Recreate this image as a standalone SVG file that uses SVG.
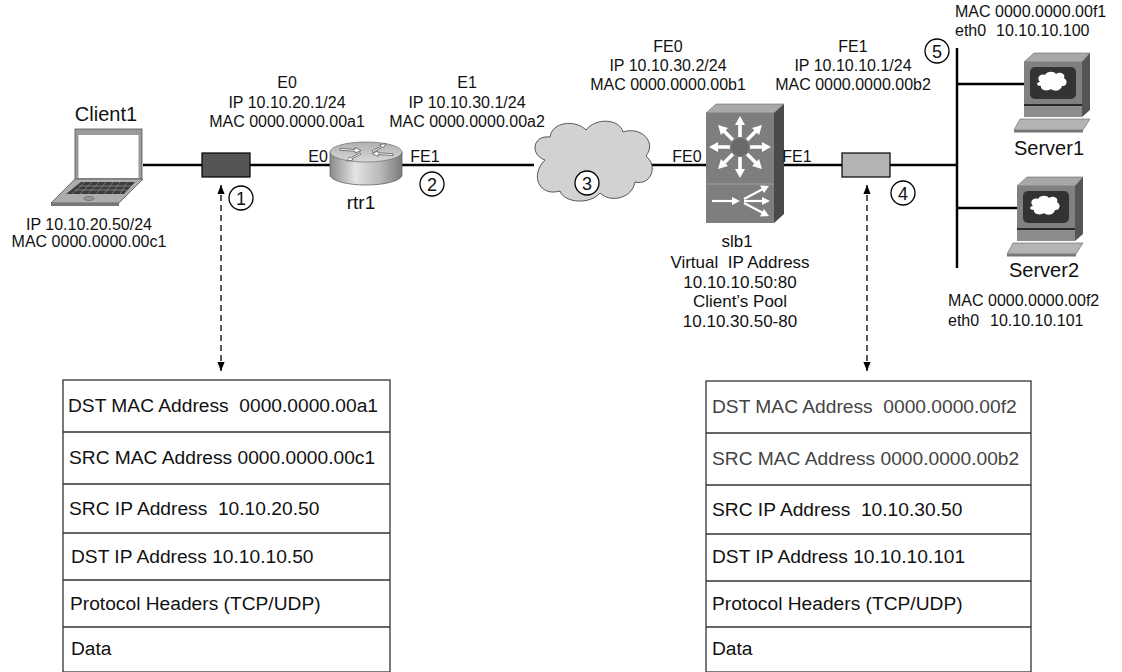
<svg xmlns="http://www.w3.org/2000/svg" width="1122" height="672" viewBox="0 0 1122 672">
  <style>
    text { font-family: "Liberation Sans", Arial, sans-serif; fill: #111; }
    .lbl { font-size: 16px; text-anchor: middle; }
    .lbl-l { font-size: 16px; }
    .big { font-size: 20px; text-anchor: middle; }
    .slb { font-size: 17px; text-anchor: middle; }
    .num { font-size: 18px; text-anchor: middle; }
    .cell { font-size: 19.2px; }
    .cell-g { font-size: 19.2px; fill: #444; }
    .link { stroke: #000; stroke-width: 2.5; fill: none; }
    .dash { stroke: #000; stroke-width: 1.3; stroke-dasharray: 6 4; fill: none; }
    .ring { fill: #fff; stroke: #000; stroke-width: 1.3; }
    .frame { fill: #fff; stroke: #333; stroke-width: 1.3; }
    .rowline { stroke: #333; stroke-width: 1.3; }
  </style>
  <defs>
    <marker id="tip" viewBox="0 0 10 8" refX="10" refY="4" markerWidth="9" markerHeight="7.2" markerUnits="userSpaceOnUse" orient="auto-start-reverse">
      <path d="M0,0 L10,4 L0,8 z" fill="#000"/>
    </marker>
    <linearGradient id="rtrSide" x1="0" y1="0" x2="1" y2="0">
      <stop offset="0" stop-color="#8a8a8a"/>
      <stop offset="0.35" stop-color="#e4e4e4"/>
      <stop offset="0.7" stop-color="#b8b8b8"/>
      <stop offset="1" stop-color="#7a7a7a"/>
    </linearGradient>
    <linearGradient id="rtrTop" x1="0" y1="0" x2="0" y2="1">
      <stop offset="0" stop-color="#b0b0b0"/>
      <stop offset="1" stop-color="#d8d8d8"/>
    </linearGradient>
    <path id="ray" d="M10,-1.8 H22 V-5 L31,0 L22,5 V1.8 H10 Z" fill="#fff"/>
    <g id="server">
      <polygon points="1024,62 1034,53 1090,53 1082,62" fill="#a8a8a8" stroke="#666" stroke-width="0.6"/>
      <polygon points="1082,62 1090,53 1090,110 1082,117" fill="#555"/>
      <rect x="1024" y="62" width="58" height="42" fill="#808080"/>
      <rect x="1030" y="67" width="46" height="32" rx="5" fill="#333"/>
      <path d="M1040,82 C1036,78 1040,73 1045,75 C1047,71 1054,71 1056,74 C1060,71 1066,74 1064,78 C1069,81 1066,87 1062,86 C1061,91 1054,92 1051,89 C1047,92 1040,90 1041,86 C1036,86 1036,82 1040,82 Z" fill="#fff"/>
      <rect x="1024" y="104" width="58" height="2.5" fill="#2a2a2a"/>
      <rect x="1024" y="106.5" width="58" height="10.5" fill="#8c8c8c"/>
      <polygon points="1020,119 1090,119 1083,130 1014,130" fill="#b4b4b4" stroke="#666" stroke-width="0.6"/>
      <rect x="1014" y="130" width="69" height="2.5" fill="#777"/>
    </g>
  </defs>

  <!-- network links -->
  <g id="connectors">
    <line class="link" x1="143" y1="165" x2="202" y2="165"/>
    <line class="link" x1="250" y1="165" x2="331" y2="165"/>
    <line class="link" x1="401" y1="165" x2="534" y2="165"/>
    <line class="link" x1="650" y1="165" x2="706" y2="165"/>
    <line class="link" x1="784" y1="165" x2="842" y2="165"/>
    <line class="link" x1="890" y1="165" x2="957" y2="165"/>
    <line class="link" x1="957" y1="48" x2="957" y2="268"/>
    <line class="link" x1="957" y1="84" x2="1024" y2="84"/>
    <line class="link" x1="957" y1="208" x2="1017" y2="208"/>
    <!-- capture points to frame dumps -->
    <line class="dash" x1="221" y1="185" x2="221" y2="371" marker-start="url(#tip)" marker-end="url(#tip)"/>
    <line class="dash" x1="867" y1="185" x2="867" y2="371" marker-start="url(#tip)" marker-end="url(#tip)"/>
  </g>

  <!-- Client1 laptop -->
  <g id="client1">
    <rect x="75" y="129" width="67" height="51" fill="#9a9a9a" stroke="#555" stroke-width="0.8"/>
    <rect x="78.5" y="135" width="60" height="43" fill="#fff"/>
    <polygon points="75,179 143,179 119,203 51,203" fill="#adadad" stroke="#555" stroke-width="0.8"/>
    <rect x="51" y="203" width="68" height="3" fill="#777"/>
    <polygon points="81,182 135,182 124,194 66,194" fill="#3c3c3c"/>
    <path d="M79,186 H131 M75,190 H127" stroke="#999" stroke-width="0.7"/>
    <path d="M85,182 L72,194 M92,182 L80,194 M99,182 L88,194 M106,182 L96,194 M113,182 L104,194 M120,182 L112,194 M127,182 L120,194" stroke="#999" stroke-width="0.6"/>
    <ellipse cx="89" cy="198.5" rx="5" ry="2" fill="#999" stroke="#555" stroke-width="0.6"/>
    <text class="big" x="106" y="121">Client1</text>
    <text class="lbl" x="89" y="230">IP 10.10.20.50/24</text>
    <text class="lbl" x="89" y="247">MAC 0000.0000.00c1</text>
  </g>

  <!-- capture point 1 -->
  <g id="tap1">
    <rect x="202" y="153" width="48" height="24" fill="#555" stroke="#000" stroke-width="1.2"/>
    <circle class="ring" cx="241" cy="198" r="12"/>
    <text class="num" x="241" y="204.5">1</text>
  </g>

  <!-- rtr1 router -->
  <g id="rtr1">
    <path d="M330,152 V175 A36,10 0 0 0 402,175 V152 Z" fill="url(#rtrSide)" stroke="#666" stroke-width="0.8"/>
    <ellipse cx="366" cy="152" rx="36" ry="10" fill="url(#rtrTop)" stroke="#777" stroke-width="0.8"/>
    <g stroke="#333" stroke-width="0.6" fill="#fff">
      <path d="M340,148.5 L355,149.5 L355,147.5 L361,150.5 L355,153 L355,151.2 L340,150.3 Z"/>
      <path d="M372,151 L381,146.2 L380,144.6 L386,143.6 L383.5,147.6 L382.5,146.7 L373.5,152.3 Z"/>
      <path d="M361,154.2 L352,158.5 L353,160 L347,161 L349.5,157 L350.6,157.8 L359.5,153 Z"/>
      <path d="M393,155.5 L378,154.5 L378,156.5 L372,153.5 L378,151 L378,152.8 L393,153.7 Z"/>
    </g>
    <text class="lbl" x="318" y="162">E0</text>
    <text class="lbl" x="425" y="162">FE1</text>
    <text class="big" x="361" y="209" style="font-size:19px">rtr1</text>
    <text class="lbl" x="287" y="88">E0</text>
    <text class="lbl" x="287" y="108">IP 10.10.20.1/24</text>
    <text class="lbl" x="287" y="127">MAC 0000.0000.00a1</text>
    <text class="lbl" x="467" y="88">E1</text>
    <text class="lbl" x="467" y="108">IP 10.10.30.1/24</text>
    <text class="lbl" x="467" y="127">MAC 0000.0000.00a2</text>
    <circle class="ring" cx="432" cy="184" r="12"/>
    <text class="num" x="432" y="190.5">2</text>
  </g>

  <!-- WAN cloud -->
  <g id="cloud">
    <path d="M545,160 C530,155 532,135 550,137 C552,122 575,119 586,130 C596,117 620,119 623,132 C641,126 657,142 646,156 C659,167 650,186 635,182 C632,199 610,203 600,193 C590,205 564,203 560,191 C540,197 529,176 545,160 Z" fill="#d2d2d2" stroke="#555" stroke-width="1"/>
    <circle class="ring" cx="587" cy="183" r="12"/>
    <text class="num" x="587" y="189.5">3</text>
  </g>

  <!-- slb1 load balancer -->
  <g id="slb1">
    <polygon points="706,113 716,104 784,104 774,113" fill="#a9a9a9" stroke="#666" stroke-width="0.6"/>
    <polygon points="774,113 784,104 784,214 774,223" fill="#4a4a4a"/>
    <rect x="706" y="113" width="68" height="110" fill="#7e7e7e"/>
    <line x1="706" y1="184" x2="774" y2="184" stroke="#a0a0a0" stroke-width="1.2"/>
    <circle cx="740" cy="147" r="9" fill="#6a6a6a"/>
    <g transform="translate(740,147)">
      <use href="#ray"/>
      <use href="#ray" transform="rotate(45)"/>
      <use href="#ray" transform="rotate(90)"/>
      <use href="#ray" transform="rotate(135)"/>
      <use href="#ray" transform="rotate(180)"/>
      <use href="#ray" transform="rotate(225)"/>
      <use href="#ray" transform="rotate(270)"/>
      <use href="#ray" transform="rotate(315)"/>
    </g>
    <g stroke="#fff" stroke-width="2.2" fill="none">
      <line x1="712" y1="201" x2="733" y2="201"/>
      <line x1="744" y1="199" x2="763" y2="189"/>
      <line x1="744" y1="201" x2="763" y2="201"/>
      <line x1="744" y1="203" x2="763" y2="213"/>
    </g>
    <g fill="#fff">
      <polygon points="732,197 740,201 732,205"/>
      <polygon points="760,185.5 769,186 764,193"/>
      <polygon points="762,197 770,201 762,205"/>
      <polygon points="764,209 769,216 760,216.5"/>
    </g>
    <text class="lbl" x="687" y="162">FE0</text>
    <text class="lbl" x="797" y="162">FE1</text>
    <text class="lbl" x="668" y="52">FE0</text>
    <text class="lbl" x="668" y="71">IP 10.10.30.2/24</text>
    <text class="lbl" x="668" y="90">MAC 0000.0000.00b1</text>
    <text class="lbl" x="853" y="52">FE1</text>
    <text class="lbl" x="853" y="71">IP 10.10.10.1/24</text>
    <text class="lbl" x="853" y="90">MAC 0000.0000.00b2</text>
    <text class="slb" x="737" y="247">slb1</text>
    <text class="slb" x="740" y="268" xml:space="preserve">Virtual  IP Address</text>
    <text class="slb" x="740" y="288">10.10.10.50:80</text>
    <text class="slb" x="740" y="307">Client’s Pool</text>
    <text class="slb" x="740" y="327">10.10.30.50-80</text>
  </g>

  <!-- capture point 4 -->
  <g id="tap4">
    <rect x="842" y="153" width="48" height="24" fill="#b3b3b3" stroke="#000" stroke-width="1.2"/>
    <circle class="ring" cx="903" cy="193" r="12"/>
    <text class="num" x="903" y="199.5">4</text>
  </g>

  <!-- server segment marker -->
  <g id="seg5">
    <circle class="ring" cx="937" cy="51" r="12"/>
    <text class="num" x="937" y="57.5">5</text>
  </g>

  <!-- Server1 -->
  <g id="server1">
    <use href="#server"/>
    <text class="big" x="1049" y="155">Server1</text>
    <text class="lbl-l" x="955" y="17">MAC 0000.0000.00f1</text>
    <text class="lbl-l" y="36"><tspan x="955">eth0</tspan><tspan x="996">10.10.10.100</tspan></text>
  </g>

  <!-- Server2 -->
  <g id="server2">
    <use href="#server" transform="translate(-7,124)"/>
    <text class="big" x="1044" y="277">Server2</text>
    <text class="lbl-l" x="948" y="306">MAC 0000.0000.00f2</text>
    <text class="lbl-l" y="326"><tspan x="948">eth0</tspan><tspan x="990">10.10.10.101</tspan></text>
  </g>

  <!-- frame at capture point 1 -->
  <g id="frame1">
    <rect class="frame" x="63" y="380" width="327" height="292"/>
    <line class="rowline" x1="63" y1="432" x2="390" y2="432"/>
    <line class="rowline" x1="63" y1="484" x2="390" y2="484"/>
    <line class="rowline" x1="63" y1="533" x2="390" y2="533"/>
    <line class="rowline" x1="63" y1="580" x2="390" y2="580"/>
    <line class="rowline" x1="63" y1="627" x2="390" y2="627"/>
    <text class="cell" x="68" y="412" xml:space="preserve">DST MAC Address  0000.0000.00a1</text>
    <text class="cell" x="69" y="464">SRC MAC Address 0000.0000.00c1</text>
    <text class="cell" x="69" y="515" xml:space="preserve">SRC IP Address  10.10.20.50</text>
    <text class="cell" x="71" y="563">DST IP Address 10.10.10.50</text>
    <text class="cell" x="70" y="610">Protocol Headers (TCP/UDP)</text>
    <text class="cell" x="71" y="655">Data</text>
  </g>

  <!-- frame at capture point 4 -->
  <g id="frame4">
    <rect class="frame" x="706" y="381" width="325" height="291"/>
    <line class="rowline" x1="706" y1="433" x2="1031" y2="433"/>
    <line class="rowline" x1="706" y1="485" x2="1031" y2="485"/>
    <line class="rowline" x1="706" y1="534" x2="1031" y2="534"/>
    <line class="rowline" x1="706" y1="581" x2="1031" y2="581"/>
    <line class="rowline" x1="706" y1="627" x2="1031" y2="627"/>
    <text class="cell-g" x="712" y="413" xml:space="preserve">DST MAC Address  0000.0000.00f2</text>
    <text class="cell-g" x="712" y="465">SRC MAC Address 0000.0000.00b2</text>
    <text class="cell" x="712" y="516" xml:space="preserve">SRC IP Address  10.10.30.50</text>
    <text class="cell" x="712" y="563">DST IP Address 10.10.10.101</text>
    <text class="cell" x="712" y="610">Protocol Headers (TCP/UDP)</text>
    <text class="cell" x="712" y="655">Data</text>
  </g>
</svg>
